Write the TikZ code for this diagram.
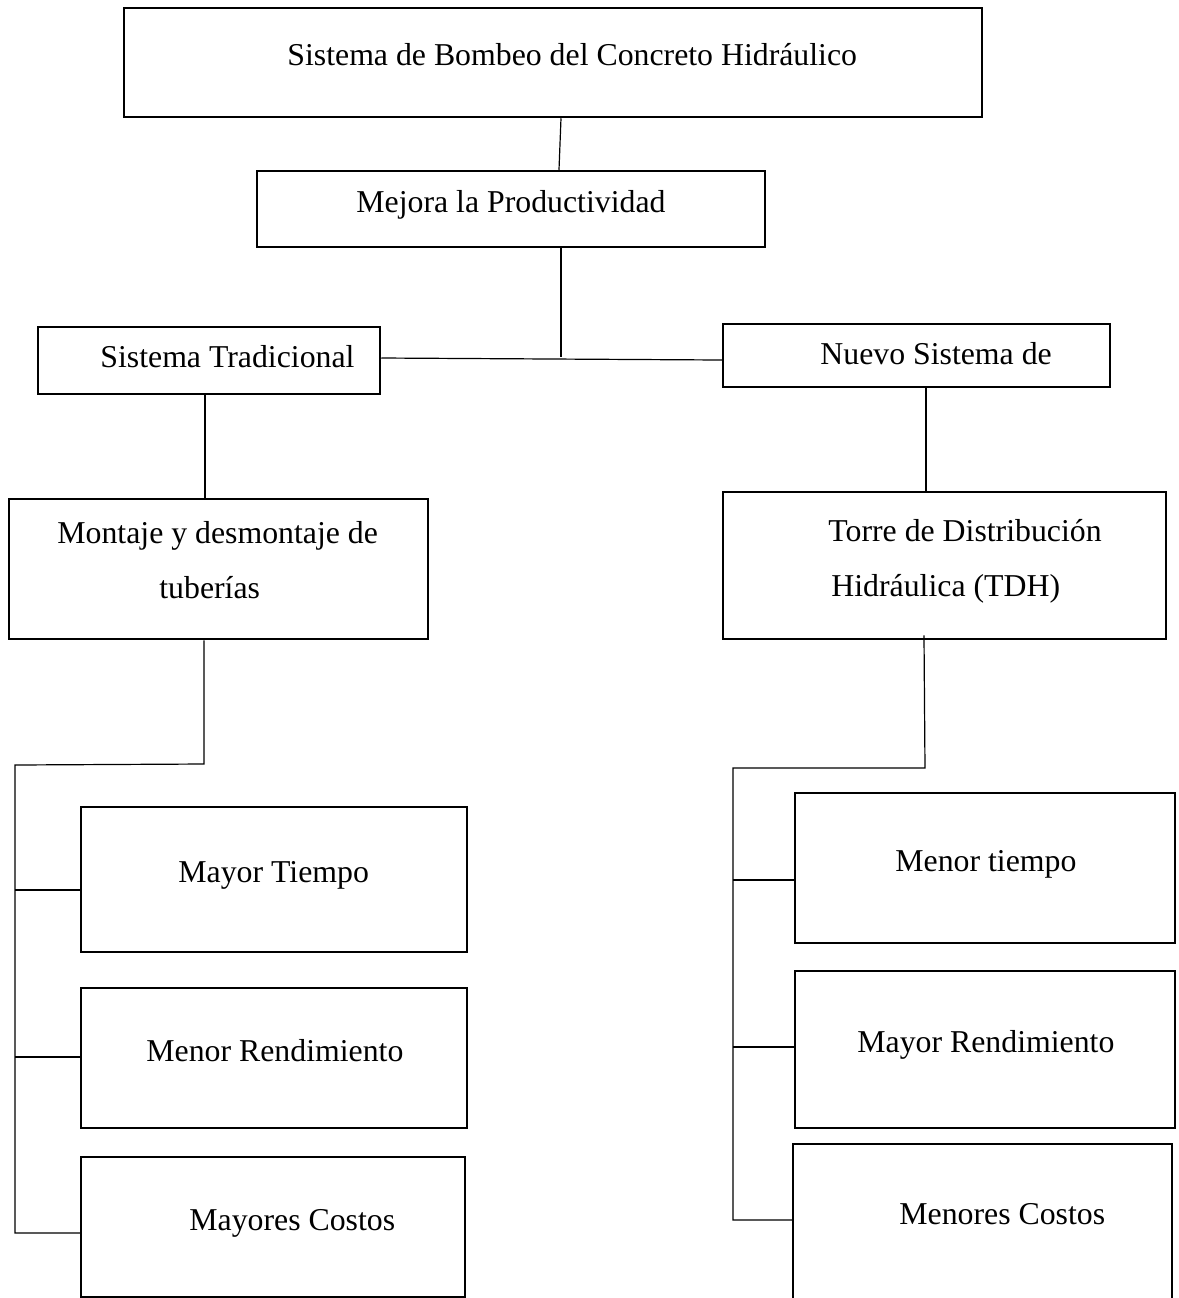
\documentclass[tikz,border=0pt]{standalone}
\usepackage{fontspec}
\setmainfont{Liberation Serif}
\usetikzlibrary{fit}
\begin{document}
\begin{tikzpicture}[x=0.5pt,y=-0.5pt,
  boxnode/.style={draw=black, line width=1.25pt, inner sep=0pt, rectangle},
  lbl/.style={anchor=base west, inner sep=0pt, font=\fontsize{15.9pt}{19pt}\selectfont},
  conn/.style={draw=black, line width=0.6pt}]
\useasboundingbox (0,0) rectangle (1179,1298);
\clip (0,0) rectangle (1179,1298);
\fill[white] (0,0) rectangle (1179,1298);

% boxes
\node[boxnode, fit={(124,8) (982,117)}] (top) {};
\node[boxnode, fit={(257,171) (765,247)}] (mej) {};
\node[boxnode, fit={(38,327) (380,394)}] (st) {};
\node[boxnode, fit={(723,324) (1110,387)}] (nuevo) {};
\node[boxnode, fit={(9,499) (428,639)}] (mont) {};
\node[boxnode, fit={(723,492) (1166,639)}] (torre) {};
\node[boxnode, fit={(81,807) (467,952)}] (m1) {};
\node[boxnode, fit={(81,988) (467,1128)}] (m2) {};
\node[boxnode, fit={(81,1157) (465,1297)}] (m3) {};
\node[boxnode, fit={(795,793) (1175,943)}] (n1) {};
\node[boxnode, fit={(795,971) (1175,1128)}] (n2) {};
\node[boxnode, fit={(793,1144) (1172,1312)}] (n3) {};

% texts
\node[lbl] (ttop) at (287,65) {Sistema de Bombeo del Concreto Hidráulico};
\node[lbl] (tmej) at (356,212) {Mejora la Productividad};
\node[lbl] (tst) at (100,367) {Sistema Tradicional};
\node[lbl] (tnuevo) at (820,364) {Nuevo Sistema de};
\node[lbl] (tmonta) at (57,543) {Montaje y desmontaje de};
\node[lbl] (tmontb) at (159,598) {tuberías};
\node[lbl] (ttorrea) at (828,541) {Torre de Distribución};
\node[lbl] (ttorreb) at (831,596) {Hidráulica (TDH)};
\node[lbl] (tm1) at (178,882) {Mayor Tiempo};
\node[lbl] (tm2) at (146,1061) {Menor Rendimiento};
\node[lbl] (tm3) at (189,1230) {Mayores Costos};
\node[lbl] (tn1) at (895,871) {Menor tiempo};
\node[lbl] (tn2) at (857,1052) {Mayor Rendimiento};
\node[lbl] (tn3) at (899,1224) {Menores Costos};

% helper coordinates
\coordinate (xa) at (561,0);
\coordinate (xb) at (559,0);
\coordinate (jmid) at (561,357);
\coordinate (ya) at (0,358);
\coordinate (yb) at (0,360);
\coordinate (xst) at (205,0);
\coordinate (xnu) at (926,0);
\coordinate (xmo) at (204,0);
\coordinate (lc1) at (204,764);
\coordinate (lc2) at (15,765);
\coordinate (lc3) at (15,1233);
\coordinate (xto) at (924,0);
\coordinate (rc1) at (925,768);
\coordinate (rc2) at (733,768);
\coordinate (rc3) at (733,1220);

% connectors
\draw[conn] (top.south -| xa) -- (mej.north -| xb);
\draw[conn] (mej.south -| xa) -- (jmid);
\draw[conn] (st.east |- ya) -- (nuevo.west |- yb);
\draw[conn] (st.south -| xst) -- (mont.north -| xst);
\draw[conn] (nuevo.south -| xnu) -- (torre.north -| xnu);
\draw[conn] (mont.south -| xmo) -- (lc1) -- (lc2) -- (lc3) -- (m3.west |- lc3);
\draw[conn] (lc2 |- 0,890) -- (m1.west |- 0,890);
\draw[conn] (lc2 |- 0,1057) -- (m2.west |- 0,1057);
\draw[conn] ([yshift=2.5pt]torre.south -| xto) -- (rc1) -- (rc2) -- (rc3) -- (n3.west |- rc3);
\draw[conn] (rc2 |- 0,880) -- (n1.west |- 0,880);
\draw[conn] (rc2 |- 0,1047) -- (n2.west |- 0,1047);
\end{tikzpicture}
\end{document}
